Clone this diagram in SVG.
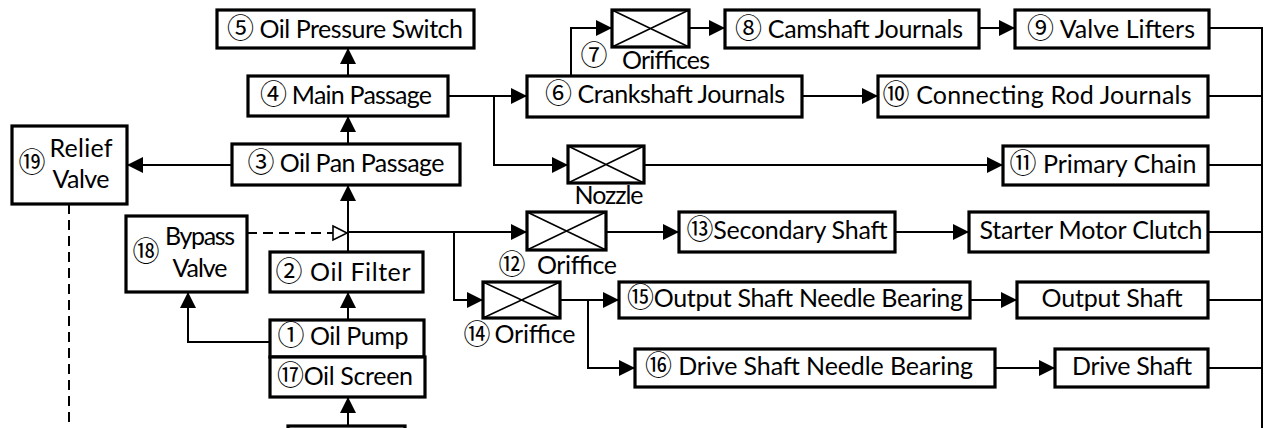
<svg xmlns="http://www.w3.org/2000/svg" width="1274" height="428" viewBox="0 0 1274 428">
<style>
.b{fill:#fff;stroke:#000;stroke-width:3.2}
.o{fill:#fff;stroke:#000;stroke-width:3.2}
.x{stroke:#000;stroke-width:1.6;fill:none}
.t{font-family:Lato,'Noto Sans CJK JP',sans-serif;font-size:25px;fill:#000;text-anchor:middle}
.n{font-family:'Noto Sans CJK JP',sans-serif;font-size:27px;fill:#000;text-anchor:middle}
.k{font-family:'Noto Sans CJK JP',sans-serif;font-size:27px}
.c{fill:none;stroke:#000;stroke-width:2}
.a{marker-end:url(#ar)}
.d{fill:none;stroke:#000;stroke-width:2;stroke-dasharray:10 6}
</style>
<defs>
<marker id="ar" markerUnits="userSpaceOnUse" markerWidth="16" markerHeight="16" refX="16" refY="8" orient="auto">
<path d="M0,0 L16,8 L0,16 z" fill="#000"/>
</marker>
</defs>

<g id="connectors">
<path class="c a" d="M348,75 L348,48"/>
<path class="c a" d="M348,143 L348,116"/>
<path class="c a" d="M348,252 L348,185"/>
<path class="c a" d="M348,320 L348,292"/>
<path class="c a" d="M348,428 L348,397"/>
<path class="c a" d="M232,165 L127,165"/>
<path class="d" d="M69,204 L69,428"/>
<path class="c a" d="M270,342 L188,342 L188,292"/>
<path class="d" d="M247,233 L333,233"/>
<path d="M333,226 L347,233 L333,240 z" fill="#fff" stroke="#000" stroke-width="1.6"/>
<path class="c a" d="M448,96 L527,96"/>
<path class="c a" d="M494,96 L494,165 L568,165"/>
<path class="c a" d="M571,75 L571,28 L612,28"/>
<path class="c a" d="M689,28 L725,28"/>
<path class="c a" d="M979,28 L1015,28"/>
<path class="c a" d="M802,96 L878,96"/>
<path class="c a" d="M644,165 L1003,165"/>
<path class="c a" d="M348,232 L527,232"/>
<path class="c a" d="M454,232 L454,300 L483,300"/>
<path class="c a" d="M606,232 L679,232"/>
<path class="c a" d="M895,232 L969,232"/>
<path class="c a" d="M560,300 L619,300"/>
<path class="c a" d="M588,300 L588,368 L635,368"/>
<path class="c a" d="M970,300 L1017,300"/>
<path class="c a" d="M995,368 L1055,368"/>
<path class="c" d="M1209,28 L1262,28 L1262,428"/>
<path class="c" d="M1208,96 L1262,96"/>
<path class="c" d="M1208,165 L1262,165"/>
<path class="c" d="M1208,232 L1262,232"/>
<path class="c" d="M1208,300 L1262,300"/>
<path class="c" d="M1208,368 L1262,368"/>
</g>

<g id="n5"><rect class="b" x="217" y="10" width="257" height="38"/><text class="t" x="345" y="38" textLength="236"><tspan class="k">⑤</tspan> Oil Pressure Switch</text></g>
<g id="n4"><rect class="b" x="248" y="76" width="200" height="40"/><text class="t" x="346" y="104" textLength="172"><tspan class="k">④</tspan> Main Passage</text></g>
<g id="n3"><rect class="b" x="232" y="144" width="228" height="41"/><text class="t" x="346" y="172" textLength="197"><tspan class="k">③</tspan> Oil Pan Passage</text></g>
<g id="n19"><rect class="b" x="12" y="126" width="115" height="78"/><text class="n" x="32" y="172">⑲</text><text class="t" x="81" y="157" textLength="63">Relief</text><text class="t" x="81" y="188" textLength="57">Valve</text></g>
<g id="n18"><rect class="b" x="126" y="216" width="121" height="76"/><text class="n" x="146" y="261">⑱</text><text class="t" x="200" y="245" textLength="70">Bypass</text><text class="t" x="200" y="277" textLength="55">Valve</text></g>
<g id="n2"><rect class="b" x="270" y="252" width="153" height="40"/><text class="t" x="343" y="281" textLength="135"><tspan class="k">②</tspan> Oil Filter</text></g>
<g id="n1"><rect class="b" x="270" y="320" width="154" height="37"/><text class="t" x="343" y="345" textLength="131"><tspan class="k">①</tspan> Oil Pump</text></g>
<g id="n17"><rect class="b" x="270" y="357" width="155" height="40"/><text class="t" x="345" y="385" textLength="136"><tspan class="k">⑰</tspan>Oil Screen</text></g>
<g id="n0"><rect class="b" x="288" y="426" width="117" height="30"/></g>
<g id="n6"><rect class="b" x="527" y="76" width="275" height="41"/><text class="t" x="665" y="103" textLength="240"><tspan class="k">⑥</tspan> Crankshaft Journals</text></g>
<g id="n7"><rect class="o" x="612" y="10" width="77" height="37"/><path class="x" d="M612,10 L689,47 M612,47 L689,10"/><text class="n" x="594" y="65">⑦</text><text class="t" x="666" y="69" textLength="88">Oriffices</text></g>
<g id="n8"><rect class="b" x="725" y="10" width="254" height="38"/><text class="t" x="849" y="38" textLength="228"><tspan class="k">⑧</tspan> Camshaft Journals</text></g>
<g id="n9"><rect class="b" x="1015" y="10" width="194" height="38"/><text class="t" x="1111" y="38" textLength="168"><tspan class="k">⑨</tspan> Valve Lifters</text></g>
<g id="n10"><rect class="b" x="878" y="76" width="330" height="41"/><text class="t" x="1037" y="104" textLength="309"><tspan class="k">⑩</tspan> Connecting Rod Journals</text></g>
<g id="nozzle"><rect class="o" x="568" y="146" width="76" height="37"/><path class="x" d="M568,146 L644,183 M568,183 L644,146"/><text class="t" x="609" y="204" textLength="69">Nozzle</text></g>
<g id="n11"><rect class="b" x="1003" y="146" width="205" height="39"/><text class="t" x="1103" y="173" textLength="187"><tspan class="k">⑪</tspan> Primary Chain</text></g>
<g id="n12"><rect class="o" x="527" y="212" width="79" height="38"/><path class="x" d="M527,212 L606,250 M527,250 L606,212"/><text class="n" x="512" y="274">⑫</text><text class="t" x="577" y="274" textLength="80">Oriffice</text></g>
<g id="n13"><rect class="b" x="679" y="212" width="216" height="40"/><text class="t" x="787" y="239" textLength="201"><tspan class="k">⑬</tspan>Secondary Shaft</text></g>
<g id="n_starter"><rect class="b" x="969" y="212" width="239" height="40"/><text class="t" x="1091" y="239" textLength="223">Starter Motor Clutch</text></g>
<g id="n14"><rect class="o" x="483" y="282" width="77" height="36"/><path class="x" d="M483,282 L560,318 M483,318 L560,282"/><text class="n" x="477" y="344">⑭</text><text class="t" x="535" y="343" textLength="81">Oriffice</text></g>
<g id="n15"><rect class="b" x="619" y="282" width="351" height="36"/><text class="t" x="795" y="307" textLength="336"><tspan class="k">⑮</tspan>Output Shaft Needle Bearing</text></g>
<g id="n_output"><rect class="b" x="1017" y="282" width="191" height="36"/><text class="t" x="1112" y="307" textLength="141">Output Shaft</text></g>
<g id="n16"><rect class="b" x="635" y="349" width="360" height="38"/><text class="t" x="809" y="375" textLength="328"><tspan class="k">⑯</tspan>  Drive Shaft Needle Bearing</text></g>
<g id="n_drive"><rect class="b" x="1055" y="349" width="153" height="38"/><text class="t" x="1132" y="375" textLength="120">Drive Shaft</text></g>
</svg>
